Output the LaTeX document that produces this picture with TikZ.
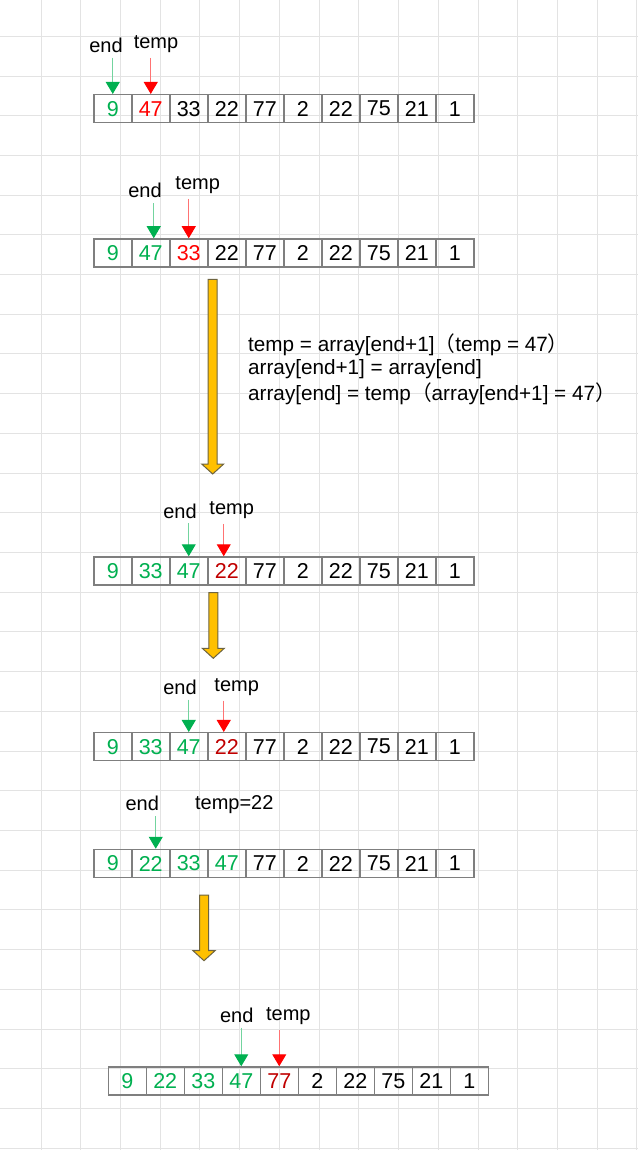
\documentclass[tikz,border=0pt]{standalone}
\usepackage{fontspec}
\setmainfont{Liberation Sans}
\newfontfamily\cjk{Noto Sans CJK SC}
\usetikzlibrary{arrows.meta,positioning}
\definecolor{endgreen}{HTML}{00B050}
\definecolor{tempred}{HTML}{FF0000}
\definecolor{darkred}{HTML}{C00000}
\definecolor{cellgray}{HTML}{7F7F7F}
\definecolor{gridgray}{HTML}{E3E3E3}
\definecolor{swapyellow}{HTML}{FFC000}
\definecolor{swapedge}{HTML}{6E6440}
\tikzset{
  cell/.style={draw=cellgray, line width=1.5pt, minimum width=38pt, minimum height=28pt, inner sep=0pt, anchor=west, font=\fontsize{21.5}{24}\selectfont},
  lbl/.style={anchor=base, inner sep=3pt, font=\fontsize{20}{22}\selectfont},
  ptr/.style={line width=1pt, draw=#1!55, shorten <=2pt, -{Triangle[width=14pt,length=12pt,color=#1]}},
  codeline/.style={anchor=base west, inner sep=0pt, font=\fontsize{20.7}{23}\selectfont},
  swap/.style={draw=swapedge, line width=1pt, fill=swapyellow, line join=miter}
}
\begin{document}
\begin{tikzpicture}[x=1pt,y=-1pt]
\fill[white] (0,0) rectangle (638,1150);
\useasboundingbox (0,0) rectangle (638,1150);
\foreach \i in {0,...,15} \draw[gridgray] ({40.7+39.73*\i},0) -- ++(0,1150);
\foreach \j in {0,...,28} \draw[gridgray] (0,{36+39.71*\j}) -- ++(638,0);

\foreach \v/\c [count=\i] in {9/endgreen,47/tempred,33/black,22/black,77/black,2/black,22/black,75/black,21/black,1/black}
  \node[cell,text=\c] (a1c\i) at ({93+38*(\i-1)},108.7) {\v};
\node[lbl] (end1) at (106,52.3) {end};
\node[lbl] (temp1) at (156,48.5) {temp};
\draw[ptr=endgreen] (a1c1.north |- end1.south) -- (a1c1.north);
\draw[ptr=tempred] (a1c2.north |- temp1.south) -- (a1c2.north);

\foreach \v/\c [count=\i] in {9/endgreen,47/endgreen,33/tempred,22/black,77/black,2/black,22/black,75/black,21/black,1/black}
  \node[cell,text=\c] (a2c\i) at ({93+38*(\i-1)},253) {\v};
\node[lbl] (end2) at (145,198) {end};
\node[lbl] (temp2) at (197.7,189.5) {temp};
\draw[ptr=endgreen] ([xshift=3pt]a2c2.north |- end2.south) -- ([xshift=3pt]a2c2.north);
\draw[ptr=tempred] (a2c3.north |- temp2.south) -- (a2c3.north);

\foreach \x/\ya/\yb in {212.7/279.3/474, 213.3/592.7/658.3, 204/895/960.7}
  \draw[swap] ({\x-4.5},\ya) -- ({\x+4.5},\ya) -- ({\x+4.5},{\yb-10}) -- ({\x+11},{\yb-10}) -- (\x,\yb) -- ({\x-11},{\yb-10}) -- ({\x-4.5},{\yb-10}) -- cycle;

\node[codeline] (code1) at (248,351.7) {temp = array[end+1]{\cjk （}temp = 47{\cjk ）}};
\node[codeline] (code2) at (248,374) {array[end+1] = array[end]};
\node[codeline] (code3) at (248,400) {array[end] = temp{\cjk （}array[end+1] = 47{\cjk ）}};

\foreach \v/\c [count=\i] in {9/endgreen,33/endgreen,47/endgreen,22/darkred,77/black,2/black,22/black,75/black,21/black,1/black}
  \node[cell,text=\c] (a3c\i) at ({93+38*(\i-1)},571) {\v};
\node[lbl] (end3) at (180,518) {end};
\node[lbl] (temp3) at (231.7,514.5) {temp};
\draw[ptr=endgreen] (a3c3.north |- end3.south) -- (a3c3.north);
\draw[ptr=tempred] ([xshift=-3pt]a3c4.north |- temp3.south) -- ([xshift=-3pt]a3c4.north);

\foreach \v/\c [count=\i] in {9/endgreen,33/endgreen,47/endgreen,22/darkred,77/black,2/black,22/black,75/black,21/black,1/black}
  \node[cell,text=\c] (a4c\i) at ({93+38*(\i-1)},746.7) {\v};
\node[lbl] (end4) at (180,694.3) {end};
\node[lbl] (temp4) at (236.7,691.2) {temp};
\draw[ptr=endgreen] (a4c3.north |- end4.south) -- (a4c3.north);
\draw[ptr=tempred] ([xshift=-3pt]a4c4.north |- temp4.south) -- ([xshift=-3pt]a4c4.north);

\foreach \v/\c [count=\i] in {9/endgreen,22/endgreen,33/endgreen,47/endgreen,77/black,2/black,22/black,75/black,21/black,1/black}
  \node[cell,text=\c] (a5c\i) at ({93+38*(\i-1)},863.5) {\v};
\node[lbl] (end5) at (142.3,810.6) {end};
\node[lbl] (tempval) at (234.3,809) {temp=22};
\draw[ptr=endgreen] ([xshift=5pt]a5c2.north |- end5.south) -- ([xshift=5pt]a5c2.north);

\foreach \v/\c [count=\i] in {9/endgreen,22/endgreen,33/endgreen,47/endgreen,77/darkred,2/black,22/black,75/black,21/black,1/black}
  \node[cell,text=\c] (a6c\i) at ({107.5+38*(\i-1)},1081) {\v};
\node[lbl] (end6) at (236.7,1022.3) {end};
\node[lbl] (temp6) at (288.3,1020.5) {temp};
\draw[ptr=endgreen] (a6c4.north |- end6.south) -- (a6c4.north);
\draw[ptr=tempred] (a6c5.north |- temp6.south) -- (a6c5.north);
\end{tikzpicture}
\end{document}
